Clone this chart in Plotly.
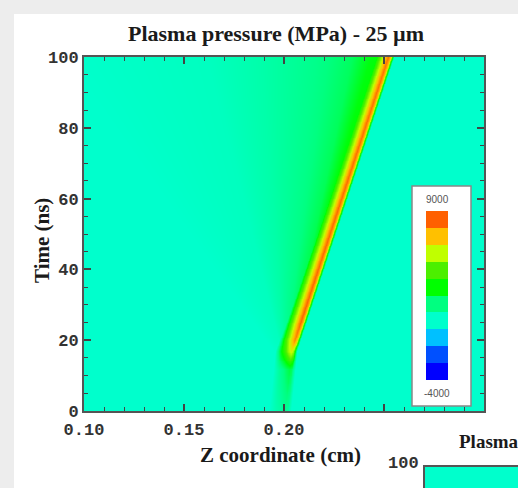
import numpy as np
import plotly.graph_objects as go

# ---------------- values ----------------
z_ticks = [0.10, 0.15, 0.20, 0.25]
z_ticktext = ["0.10", "0.15", "0.20", ""]
t_ticks = [0, 20, 40, 60, 80, 100]

cbar_min, cbar_max = -4000, 9000
band_colors = ["#0000FF", "#0050FF", "#00C0FF", "#00FFCC", "#00FF80",
               "#00FF00", "#4CEF00", "#C0FF00", "#FFC000", "#FF6000"]

background_level = 550
# shock ridge (orange line): position and peak pressure vs time
ridge_t = [0, 14, 17, 100]
ridge_z = [0.2005, 0.2030, 0.2035, 0.2520]
ridge_peak_t = [0, 12, 16, 20, 25, 100]
ridge_peak = [1500, 2500, 5500, 7800, 8300, 8100]
# cross-profile of the ridge (offset in cm from ridge centre -> fraction of peak)
ridge_profile_d = [-0.008, -0.005, -0.003, -0.0015, 0.0, 0.0012, 0.0022, 0.003]
ridge_profile_w = [0.0, 0.45, 0.66, 0.85, 1.0, 0.85, 0.35, 0.0]
# green wake (cone) behind the ridge
wake_edge_t = [0, 14, 100]
wake_edge_z = [0.1995, 0.2000, 0.1615]
wake_amp_t = [0, 10, 20, 40, 70, 100]
wake_amp = [800, 1500, 3100, 2900, 2750, 2650]
wake_profile_s = [0.0, 0.1, 0.2, 0.4, 0.7, 1.0, 1.8]
wake_profile_w = [1.0, 0.92, 0.62, 0.42, 0.22, 0.08, 0.0]

# ---------------- field grid built from the values above ----------------
z_axis = np.round(np.arange(0.10, 0.30001, 0.0005), 4)
t_axis = np.arange(0, 100.001, 0.25)
Z, T = np.meshgrid(z_axis, t_axis)
zr = np.interp(T, ridge_t, ridge_z)
zl = np.interp(T, wake_edge_t, wake_edge_z)
width = np.maximum(zr - zl, 1e-4)
s = (zr - Z) / width
wake = np.where(Z <= zr, np.interp(s, wake_profile_s, wake_profile_w), 0.0) * np.interp(T, wake_amp_t, wake_amp)
ridge = np.interp(Z - zr, ridge_profile_d, ridge_profile_w) * (np.interp(T, ridge_peak_t, ridge_peak) - background_level)
field = np.round(background_level + np.maximum(wake, ridge)).astype(int)

# ---------------- colour scales ----------------
n = len(band_colors)
cont_scale = [[0.0, band_colors[0]]]
for i, c in enumerate(band_colors):
    cont_scale.append([(i + 0.5) / n, c])
cont_scale.append([1.0, band_colors[-1]])
step_scale = []
for i, c in enumerate(band_colors):
    step_scale.append([i / n, c])
    step_scale.append([(i + 1) / n, c])

# ---------------- geometry helpers (pixel -> paper) ----------------
W, H = 518, 488
L, R, TOP, B = 84, 34, 57, 77
PW, PH = W - L - R, H - TOP - B


def px(x):
    return (x - L) / PW


def py(y):
    return 1 - (y - TOP) / PH


fig = go.Figure()
fig.add_trace(go.Heatmap(
    x=z_axis, y=t_axis, z=field, colorscale=cont_scale,
    zmin=cbar_min, zmax=cbar_max, zsmooth="best", showscale=False, hoverinfo="skip"))
# colour-bar carrier (outside the visible x range)
fig.add_trace(go.Heatmap(
    x=[0.5, 0.6], y=[0, 1], z=[[cbar_min, cbar_max], [cbar_min, cbar_max]],
    colorscale=step_scale, zmin=cbar_min, zmax=cbar_max, hoverinfo="skip",
    colorbar=dict(x=px(426), xanchor="left", y=py(211), yanchor="top",
                  len=169, lenmode="pixels", thickness=22, thicknessmode="pixels",
                  xpad=0, ypad=0, outlinewidth=0, showticklabels=False, ticks="",
                  bgcolor="rgba(0,0,0,0)")))

tickfont = dict(family="Liberation Mono", size=17, color="#333333", weight="bold")
axis_common = dict(ticks="inside", tickcolor="#444444", tickwidth=1.5, ticklen=7,
                   showline=True, linecolor="#555555", linewidth=2, mirror="ticks",
                   showgrid=False, zeroline=False, tickfont=tickfont)
fig.update_xaxes(range=[0.10, 0.30], tickmode="array", tickvals=z_ticks, ticktext=z_ticktext,
                 minor=dict(tickmode="linear", tick0=0.10, dtick=0.01, ticks="inside",
                            ticklen=4, tickcolor="#444444", tickwidth=1.2),
                 ticklabelstandoff=2, **axis_common)
fig.update_yaxes(range=[0, 100], tickmode="array", tickvals=t_ticks,
                 minor=dict(tickmode="linear", tick0=0, dtick=5, ticks="inside",
                            ticklen=4, tickcolor="#444444", tickwidth=1.2),
                 ticklabelstandoff=0, **axis_common)

serif_bold = dict(family="Liberation Serif", size=21, color="#1a1a1a", weight="bold")
title_font = dict(family="Liberation Serif", size=22, color="#1a1a1a", weight="bold")
small = dict(family="Liberation Sans", size=10, color="#555555")


def ann(text, x, y, font, xanchor="center", **kw):
    return dict(text=text, xref="paper", yref="paper", x=px(x), y=py(y),
                xanchor=xanchor, yanchor="middle", showarrow=False, font=font, **kw)


fig.update_layout(
    width=W, height=H, margin=dict(l=L, r=R, t=TOP, b=B),
    paper_bgcolor="#ededed", plot_bgcolor="#00FFCC",
    title=dict(text="Plasma pressure (MPa) - 25 µm", x=px(276), xref="paper", xanchor="center",
               y=1 - 33 / H, yref="container", yanchor="middle", font=title_font),
    shapes=[
        dict(type="rect", xref="paper", yref="paper", layer="below",
             x0=px(14), x1=px(530), y0=py(500), y1=py(14),
             fillcolor="white", line=dict(width=0)),
        dict(type="rect", xref="paper", yref="paper", layer="above",
             x0=px(412), x1=px(471), y0=py(406), y1=py(186),
             fillcolor="white", line=dict(color="#888888", width=1.5)),
        dict(type="rect", xref="paper", yref="paper", layer="above",
             x0=px(424), x1=px(540), y0=py(510), y1=py(466),
             fillcolor="#00FFCC", line=dict(color="#555555", width=2)),
    ],
    annotations=[
        ann("Time (ns)", 42, 241, serif_bold, textangle=-90),
        ann("Z coordinate (cm)", 280, 455, serif_bold),
        ann("9000", 437, 199, small),
        ann("-4000", 437, 393, small),
        ann("Plasma", 457, 441, dict(serif_bold, size=19), xanchor="left"),
        ann("100", 421, 464, tickfont, xanchor="right"),
    ],
)

fig.write_html("out.html")
